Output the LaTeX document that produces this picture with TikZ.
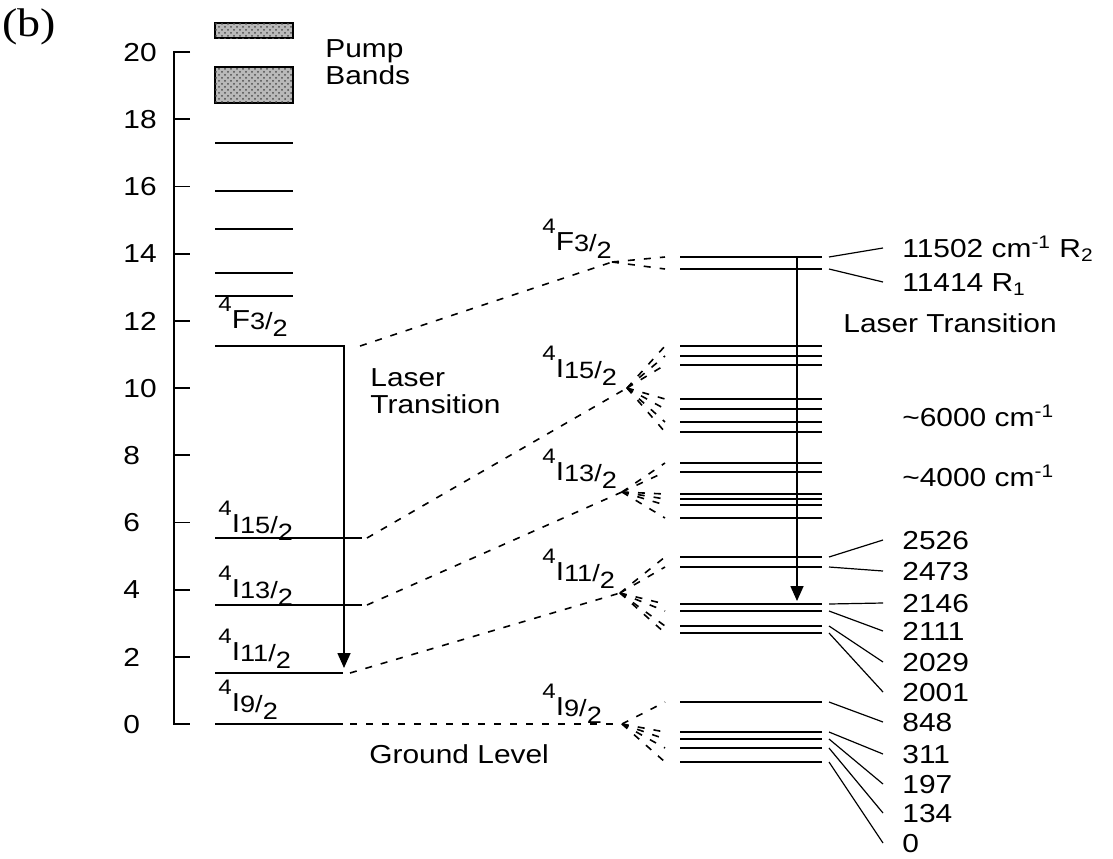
\documentclass[tikz,border=0pt]{standalone}
\usepackage{fontspec}
\setmainfont{Liberation Sans}[FakeStretch=1.15]
\newfontfamily\panelfont{Liberation Serif}[FakeStretch=1.15]
\usetikzlibrary{arrows.meta, patterns}

% term symbol, e.g. \lvl{4}{I}{15} for 4I15/2
\newcommand{\lvl}[3]{\raisebox{8.4pt}{\fontsize{10.5}{11}\selectfont #1}#2\raisebox{-0.8pt}{\fontsize{11.8}{12}\selectfont #3/}\raisebox{-4.4pt}{\fontsize{11.8}{12}\selectfont 2}}

\begin{document}
\begin{tikzpicture}[
    x=0.5pt, y=-0.5pt,
    >={Triangle[length=7.5pt,width=6.5pt]},
    every node/.style={font=\fontsize{13}{13.5}\selectfont, inner sep=0pt},
    level/.style={line width=1pt},
    sublevel/.style={line width=0.9pt},
    band/.style={line width=1.2pt, fill=gray!55},
    link/.style={dash pattern=on 3.5pt off 4.5pt, line width=0.8pt},
    tag/.style={line width=0.6pt},
    value/.style={anchor=west, inner xsep=9.5pt, text height=9.2pt, text depth=0pt},
]
    \useasboundingbox (0,0) rectangle (1113,858);

    % Panel label
    \node[font=\panelfont\fontsize{20}{21}\selectfont] (panel) at (29,27) {(b)};

    % Energy axis
    \draw[line width=0.9pt] (190,52) -- (174,52) -- (174,724) -- (190,724);
    \foreach \e in {0,2,...,20} {
        \draw[line width=0.9pt] (174,{724-33.6*\e}) -- (190,{724-33.6*\e});
        \node[anchor=west, text height=9.2pt, text depth=0pt] (t\e) at (123,{724-33.6*\e}) {\e};
    }

    % Pump bands
    \draw[band] (215,23) rectangle (293,38);
    \fill[pattern=crosshatch dots, pattern color=black!70] (215,23) rectangle (293,38);
    \draw[band] (215,67) rectangle (293,103);
    \fill[pattern=crosshatch dots, pattern color=black!70] (215,67) rectangle (293,103);
    \node[anchor=west, align=left] (pump) at (325,62) {Pump\\Bands};

    % Upper levels
    \foreach \y in {143,191,229,273,296}
        \draw[sublevel] (215,\y) -- (293,\y);

    % Manifolds
    \draw[level] (215,346) -- (345,346);
    \draw[level] (215,538) -- (362,538);
    \draw[level] (215,605) -- (362,605);
    \draw[level] (215,673) -- (343,673);
    \draw[level] (215,724) -- (343,724);
    \coordinate (F) at (360,346);
    \coordinate (I15) at (367,538);
    \coordinate (I13) at (367,605);
    \coordinate (I11) at (350,673);
    \coordinate (I9) at (350,724);

    \node[anchor=base west] (lF) at (218,328) {\lvl{4}{F}{3}};
    \node[anchor=base west] (lI15) at (218,532) {\lvl{4}{I}{15}};
    \node[anchor=base west] (lI13) at (218,597) {\lvl{4}{I}{13}};
    \node[anchor=base west] (lI11) at (218,660) {\lvl{4}{I}{11}};
    \node[anchor=base west] (lI9) at (218,711) {\lvl{4}{I}{9}};

    % Laser transition (left)
    \draw[->, line width=0.8pt] (344,346) -- (344,668);
    \node[anchor=west, align=left] (laserL) at (370,391) {Laser\\Transition};
    \node[anchor=west] (ground) at (369,754) {Ground Level};

    % Stark components
    \foreach \y/\n in {257/1,269/2,346/3,356/4,365/5,399/6,409/7,422/8,432/9,
                       463/10,472/11,494/12,499/13,505/14,518/15,
                       557/16,567/17,604/18,611/19,626/20,633/21,
                       702/22,732/23,739/24,748/25,762/26} {
        \draw[sublevel] (680,\y) -- (822,\y);
        \coordinate (s\n) at (665,\y);
        \coordinate (e\n) at (829,\y);
    }

    % Splitting fans
    \coordinate (fanF) at (612,262);
    \coordinate (fanI15) at (627,388);
    \coordinate (fanI13) at (622,492);
    \coordinate (fanI11) at (620,593);
    \coordinate (fanI9) at (622,724);
    \draw[link] (F) -- (fanF);
    \draw[link] (I15) -- (fanI15);
    \draw[link] (I13) -- (fanI13);
    \draw[link] (I11) -- (fanI11);
    \draw[link] (I9) -- (fanI9);
    \foreach \n in {1,2} \draw[link] (fanF) -- (s\n);
    \foreach \n in {3,...,9} \draw[link] (fanI15) -- (s\n);
    \foreach \n in {10,...,15} \draw[link] (fanI13) -- (s\n);
    \foreach \n in {16,...,21} \draw[link] (fanI11) -- (s\n);
    \foreach \n in {22,...,26} \draw[link] (fanI9) -- (s\n);

    \node[anchor=base west] (mF) at (542,250) {\lvl{4}{F}{3}};
    \node[anchor=base west] (mI15) at (542,377) {\lvl{4}{I}{15}};
    \node[anchor=base west] (mI13) at (542,480) {\lvl{4}{I}{13}};
    \node[anchor=base west] (mI11) at (542,580) {\lvl{4}{I}{11}};
    \node[anchor=base west] (mI9) at (542,715) {\lvl{4}{I}{9}};

    % Laser transition (right)
    \draw[->, line width=0.8pt] (797,257) -- (797,601);

    % Values
    \node[value] (v1) at (883,248) {11502 cm\textsuperscript{-1} R\textsubscript{2}};
    \node[value] (v2) at (883,282) {11414 R\textsubscript{1}};
    \node[anchor=west] (laserR) at (843,323) {Laser Transition};
    \node[value] (w6) at (883,417) {\textasciitilde6000 cm\textsuperscript{-1}};
    \node[value] (w4) at (883,477) {\textasciitilde4000 cm\textsuperscript{-1}};
    \foreach \n/\y/\t in {16/540/2526,17/571/2473,18/603/2146,19/631/2111,20/662/2029,21/692/2001,
                          22/722/848,23/754/311,24/784/197,25/813/134,26/843/0} {
        \node[value] (v\n) at (883,\y) {\t};
        \draw[tag] (e\n) -- (v\n.west);
    }
    \draw[tag] (e1) -- (v1.west);
    \draw[tag] (e2) -- (v2.west);
\end{tikzpicture}
\end{document}
